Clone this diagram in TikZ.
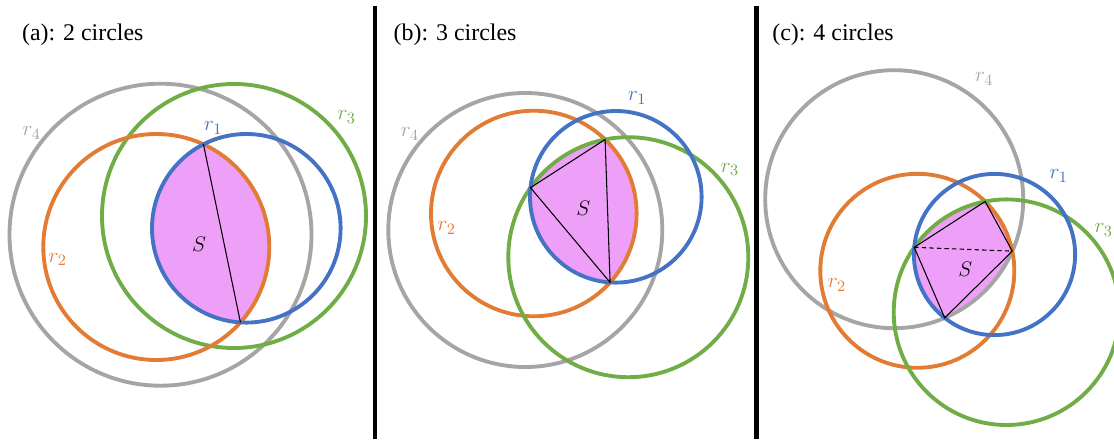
\documentclass[tikz,border=0pt]{standalone}
\usepackage{fontspec}
\setmainfont{Liberation Serif}
\definecolor{cblue}{HTML}{4472C4}
\definecolor{corange}{RGB}{226,124,52}
\definecolor{cgreen}{HTML}{70AD47}
\definecolor{cgray}{HTML}{A5A5A5}
\definecolor{cpink}{RGB}{238,160,248}
\tikzset{
  circ/.style={line width=2.2pt},
  chord/.style={line width=0.6pt, black},
  dchord/.style={line width=0.6pt, black, dash pattern=on 2.5pt off 1.8pt},
  title/.style={anchor=base west, font=\fontsize{13.6}{16}\selectfont, inner sep=0pt},
  lab/.style={font=\fontsize{13}{15}\selectfont, inner sep=0pt},
  sepline/.style={line width=2.6pt, black},
  region/.style={fill=cpink}
}
\begin{document}
\begin{tikzpicture}[x=0.02cm,y=-0.02cm]
\useasboundingbox (0,0) rectangle (1114,439);
\clip (0,0) rectangle (1114,439);

% ---------- separators ----------
\draw[sepline] (375,6) -- (375,439);
\draw[sepline] (756.5,6) -- (756.5,439);

% ---------- titles ----------
\node[title] (ta) at (21.7,40.5) {(a): 2 circles};
\node[title] (tb) at (393.3,40.5) {(b): 3 circles};
\node[title] (tc) at (772,40.5) {(c): 4 circles};

% ================= panel (a) =================
\coordinate (aB) at (246.3,228.3);
\coordinate (aO) at (156.3,247);
\coordinate (aG) at (234,216);
\coordinate (aY) at (160.5,234.7);
\begin{scope}
  \clip (aB) circle (94.3);
  \fill[region] (aO) circle (113);
\end{scope}
\draw[circ, cgray]   (aY) circle (151);
\draw[circ, cgreen]  (aG) circle (132);
\draw[circ, corange] (aO) circle (113);
\draw[circ, cblue]   (aB) circle (94.3);
\coordinate (a1) at (203.44,144.30);
\coordinate (a2) at (240.44,322.42);
\draw[chord] (a1) -- (a2);
\node[lab, text=cgray]   (ar4) at (31.7,133) {$r_4$};
\node[lab, text=cblue]   (ar1) at (213.3,128) {$r_1$};
\node[lab, text=cgreen]  (ar3) at (346.7,117) {$r_3$};
\node[lab, text=corange] (ar2) at (57.7,259.5) {$r_2$};
\node[lab] (aS) at (199,244) {$S$};

% ================= panel (b) =================
\coordinate (bB) at (615.8,196.8);
\coordinate (bO) at (533.8,213.5);
\coordinate (bG) at (628.3,257.2);
\coordinate (bY) at (525.3,230);
\begin{scope}
  \clip (bB) circle (85.8);
  \clip (bO) circle (102.8);
  \fill[region] (bG) circle (120);
\end{scope}
\draw[circ, cgray]   (bY) circle (137);
\draw[circ, corange] (bO) circle (102.8);
\draw[circ, cgreen]  (bG) circle (120);
\draw[circ, cblue]   (bB) circle (85.8);
\coordinate (bt) at (605.11,139.46);
\coordinate (bl) at (530.48,187.68);
\coordinate (bb) at (610.09,282.42);
\draw[chord, line join=round] (bt) -- (bl) -- (bb) -- cycle;
\node[lab, text=cblue]   (br1) at (637.3,98) {$r_1$};
\node[lab, text=cgray]   (br4) at (410,134) {$r_4$};
\node[lab, text=cgreen]  (br3) at (730,169.5) {$r_3$};
\node[lab, text=corange] (br2) at (446.7,228) {$r_2$};
\node[lab] (bS) at (583.3,208.3) {$S$};

% ================= panel (c) =================
\coordinate (cY) at (894.2,199.2);
\coordinate (cO) at (917.3,270.8);
\coordinate (cB) at (994.5,254.5);
\coordinate (cG) at (1006.5,312.2);
\begin{scope}
  \clip (cB) circle (80.6);
  \clip (cO) circle (97);
  \clip (cG) circle (112.8);
  \fill[region] (cY) circle (129);
\end{scope}
\draw[circ, cgray]   (cY) circle (129);
\draw[circ, corange] (cO) circle (97);
\draw[circ, cgreen]  (cG) circle (112.8);
\draw[circ, cblue]   (cB) circle (80.6);
\coordinate (ct) at (985.12,201.45);
\coordinate (cl) at (914.21,247.33);
\coordinate (cb) at (944.72,317.89);
\coordinate (cr) at (1012.29,251.13);
\draw[chord, line join=round] (cl) -- (ct) -- (cr) -- (cb) -- cycle;
\draw[dchord] (cl) -- (cr);
\node[lab, text=cgray]   (cr4) at (984.3,79) {$r_4$};
\node[lab, text=cblue]   (cr1) at (1058.7,176) {$r_1$};
\node[lab, text=cgreen]  (cr3) at (1103.7,230) {$r_3$};
\node[lab, text=corange] (cr2) at (837,285) {$r_2$};
\node[lab] (cS) at (965.3,269.3) {$S$};
\end{tikzpicture}
\end{document}
